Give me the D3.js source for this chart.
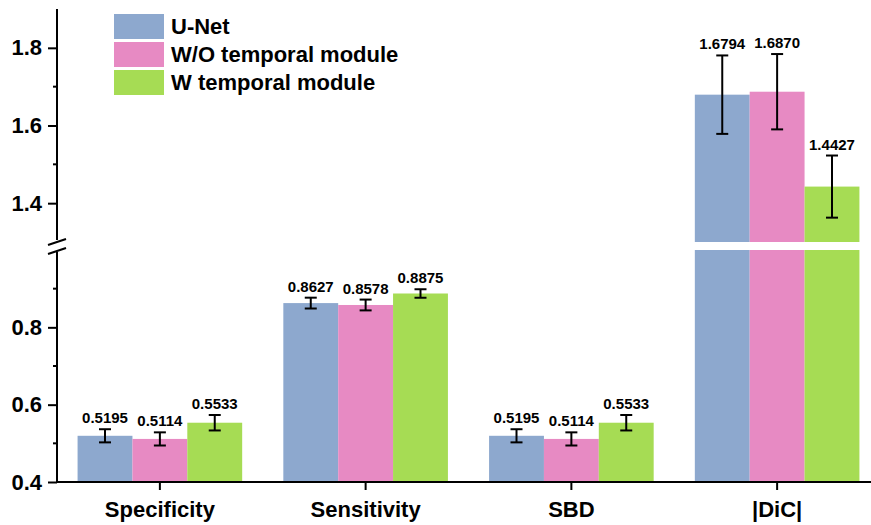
<!DOCTYPE html>
<html>
<head>
<meta charset="utf-8">
<script src="https://cdn.jsdelivr.net/npm/d3@7"></script>
<style>
  body { margin: 0; background: #fff; }
  svg text { font-family: "Liberation Sans", Arial, sans-serif; font-weight: bold; }
</style>
</head>
<body>
<svg id="chart" width="871" height="525"></svg>
<script>
const categories = ["Specificity", "Sensitivity", "SBD", "|DiC|"];
const series = ["U-Net", "W/O temporal module", "W temporal module"];
const colors = ["#8da8ce", "#e78ac3", "#a6dc54"];
const values = [
  [0.5195, 0.8627, 0.5195, 1.6794],
  [0.5114, 0.8578, 0.5114, 1.6870],
  [0.5533, 0.8875, 0.5533, 1.4427]
];
const errors = [
  [0.017, 0.014, 0.017, 0.101],
  [0.017, 0.014, 0.017, 0.097],
  [0.020, 0.011, 0.020, 0.080]
];
const lowTicks = [0.4, 0.6, 0.8];
const lowMinor = [0.5, 0.7, 0.9];
const highTicks = [1.4, 1.6, 1.8];
const highMinor = [1.5, 1.7];

const svg = d3.select("#chart");
const axisX = 57, baseY = 482;

// broken y axis: two segments with the same scale
const yLow = d3.scaleLinear().domain([0.4, 1.0]).range([baseY, 250]);
const yHigh = d3.scaleLinear().domain([1.3, 1.9]).range([242, 9]);
const breakLow = 1.0, breakHigh = 1.3;

const x0 = d3.scaleBand().domain(categories).range([axisX, 880])
  .paddingInner(0.2).paddingOuter(0.1);
const x1 = d3.scaleBand().domain(series).range([0, x0.bandwidth()]);

// bars
const data = [];
series.forEach((s, si) => categories.forEach((c, ci) => {
  data.push({ c, s, si, v: values[si][ci], e: errors[si][ci] });
}));

const g = svg.append("g");
data.forEach(d => {
  const bx = x0(d.c) + x1(d.s), bw = x1.bandwidth();
  if (d.v <= breakLow) {
    g.append("rect").attr("x", bx).attr("width", bw)
      .attr("y", yLow(d.v)).attr("height", baseY - yLow(d.v))
      .attr("fill", colors[d.si]);
  } else {
    g.append("rect").attr("x", bx).attr("width", bw)
      .attr("y", yLow(breakLow)).attr("height", baseY - yLow(breakLow))
      .attr("fill", colors[d.si]);
    g.append("rect").attr("x", bx).attr("width", bw)
      .attr("y", yHigh(d.v)).attr("height", yHigh(breakHigh) - yHigh(d.v))
      .attr("fill", colors[d.si]);
  }
});

// error bars + labels
const yv = v => v <= breakLow ? yLow(v) : yHigh(v);
data.forEach(d => {
  const cx = x0(d.c) + x1(d.s) + x1.bandwidth() / 2;
  const top = yv(d.v + d.e), bot = yv(d.v - d.e);
  const eg = svg.append("g").attr("stroke", "#000").attr("stroke-width", 2);
  eg.append("line").attr("x1", cx).attr("x2", cx).attr("y1", top).attr("y2", bot);
  eg.append("line").attr("x1", cx - 6).attr("x2", cx + 6).attr("y1", top).attr("y2", top);
  eg.append("line").attr("x1", cx - 6).attr("x2", cx + 6).attr("y1", bot).attr("y2", bot);
  svg.append("text").attr("x", cx).attr("y", top - 6)
    .attr("text-anchor", "middle").style("font-size", "15px")
    .text(d.v.toFixed(4));
});

// y axes
const fmt = d3.format(".1f");
function yAxis(scale, ticks, minor, y1, y2) {
  const a = svg.append("g").attr("transform", `translate(${axisX},0)`)
    .call(d3.axisLeft(scale).tickValues(ticks).tickFormat(fmt)
      .tickSize(9).tickPadding(6).tickSizeOuter(0));
  a.select(".domain").remove();
  a.selectAll(".tick line").attr("stroke-width", 2);
  a.selectAll(".tick text").style("font-size", "22px").attr("fill", "#000");
  a.selectAll(".minor").data(minor).join("line")
    .attr("x1", -4).attr("x2", 0)
    .attr("y1", d => scale(d)).attr("y2", d => scale(d))
    .attr("stroke", "#000").attr("stroke-width", 2);
  a.append("line").attr("x1", 0).attr("x2", 0).attr("y1", y1).attr("y2", y2)
    .attr("stroke", "#000").attr("stroke-width", 2);
}
yAxis(yLow, lowTicks, lowMinor, baseY, 250);
yAxis(yHigh, highTicks, highMinor, 243, 9);

// break marks
const br = svg.append("g").attr("stroke", "#000").attr("stroke-width", 2);
br.append("line").attr("x1", axisX).attr("x2", axisX).attr("y1", 240).attr("y2", 252)
  .attr("stroke", "#fff").attr("stroke-width", 3);
br.append("line").attr("x1", 48).attr("y1", 245).attr("x2", 66).attr("y2", 239);
br.append("line").attr("x1", 48).attr("y1", 254).attr("x2", 66).attr("y2", 248);

// x axis
const xa = svg.append("g").attr("transform", `translate(0,${baseY})`)
  .call(d3.axisBottom(x0).tickSize(8).tickPadding(11).tickSizeOuter(0));
xa.select(".domain").attr("d", `M${axisX},0H871`).attr("stroke-width", 2);
xa.selectAll(".tick line").attr("stroke-width", 2);
xa.selectAll(".tick text").style("font-size", "22px").attr("fill", "#000");

// legend
const lg = svg.append("g").attr("transform", "translate(114,14)");
series.forEach((s, i) => {
  lg.append("rect").attr("x", 0).attr("y", i * 28).attr("width", 50).attr("height", 25)
    .attr("fill", colors[i]);
  lg.append("text").attr("x", 57).attr("y", i * 28 + 12.5).attr("dy", "0.35em")
    .style("font-size", "22px").text(s);
});
</script>
</body>
</html>
